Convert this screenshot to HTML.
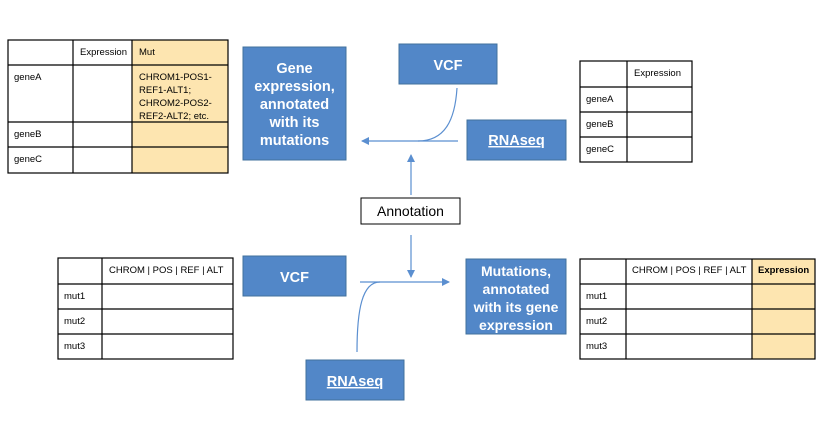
<!DOCTYPE html>
<html><head><meta charset="utf-8"><style>
html,body{margin:0;padding:0;background:#fff;}
svg{display:block;font-family:"Liberation Sans",sans-serif;}
.b{fill:#5287c8;stroke:#41719c;stroke-width:1}
.t{fill:#fff;font-weight:bold;text-anchor:middle}
.s{font-size:9.5px;fill:#000}
.g{stroke:#000;stroke-width:1.2;fill:none}
.l{stroke:#5b8fd0;stroke-width:1.2;fill:none}
</style></head><body>
<svg width="829" height="430" viewBox="0 0 829 430">
<defs><marker id="a" markerWidth="8" markerHeight="8" refX="7" refY="4" orient="auto" markerUnits="userSpaceOnUse"><path d="M0,0 L8,4 L0,8 z" fill="#5b8fd0"/></marker></defs>

<!-- top-left table -->
<rect x="132" y="40" width="96" height="133" fill="#fde5b0"/>
<rect x="8" y="40" width="220" height="133" class="g"/>
<line x1="73" y1="40" x2="73" y2="173" class="g"/>
<line x1="132" y1="40" x2="132" y2="173" class="g"/>
<line x1="8" y1="65" x2="228" y2="65" class="g"/>
<line x1="8" y1="122" x2="228" y2="122" class="g"/>
<line x1="8" y1="147" x2="228" y2="147" class="g"/>
<text x="80" y="55" class="s">Expression</text>
<text x="139" y="55" class="s">Mut</text>
<text x="14" y="80" class="s">geneA</text>
<text x="139" y="80" class="s">CHROM1-POS1-</text>
<text x="139" y="93" class="s">REF1-ALT1;</text>
<text x="139" y="106" class="s">CHROM2-POS2-</text>
<text x="139" y="119" class="s">REF2-ALT2; etc.</text>
<text x="14" y="137" class="s">geneB</text>
<text x="14" y="162" class="s">geneC</text>

<!-- gene expression box -->
<rect x="243" y="47" width="103" height="113" class="b"/>
<text class="t" font-size="14.5"><tspan x="294.5" y="73">Gene</tspan><tspan x="294.5" y="91">expression,</tspan><tspan x="294.5" y="109">annotated</tspan><tspan x="294.5" y="127">with its</tspan><tspan x="294.5" y="145">mutations</tspan></text>

<rect x="399" y="44" width="98" height="40" class="b"/>
<text x="448" y="70" class="t" font-size="14.5">VCF</text>
<rect x="467" y="120" width="99" height="40" class="b"/>
<text x="516.5" y="145" class="t" font-size="14.5" text-decoration="underline">RNAseq</text>

<line x1="458" y1="141" x2="362" y2="141" class="l" marker-end="url(#a)"/>
<path d="M457,88 C455,120 445,141 418,141" class="l"/>
<line x1="411" y1="195" x2="411" y2="155" class="l" marker-end="url(#a)"/>

<rect x="361" y="198" width="99" height="26" fill="#fff" stroke="#000" stroke-width="1"/>
<text x="410.5" y="216" font-size="14" text-anchor="middle">Annotation</text>

<!-- top-right table -->
<rect x="580" y="61" width="112" height="101" class="g"/>
<line x1="627" y1="61" x2="627" y2="162" class="g"/>
<line x1="580" y1="87" x2="692" y2="87" class="g"/>
<line x1="580" y1="112" x2="692" y2="112" class="g"/>
<line x1="580" y1="137" x2="692" y2="137" class="g"/>
<text x="634" y="76" class="s">Expression</text>
<text x="586" y="102" class="s">geneA</text>
<text x="586" y="127" class="s">geneB</text>
<text x="586" y="152" class="s">geneC</text>

<!-- bottom-left table -->
<rect x="58" y="258" width="175" height="101" class="g"/>
<line x1="102" y1="258" x2="102" y2="359" class="g"/>
<line x1="58" y1="284" x2="233" y2="284" class="g"/>
<line x1="58" y1="309" x2="233" y2="309" class="g"/>
<line x1="58" y1="334" x2="233" y2="334" class="g"/>
<text x="109" y="273" class="s">CHROM | POS | REF | ALT</text>
<text x="64" y="299" class="s">mut1</text>
<text x="64" y="324" class="s">mut2</text>
<text x="64" y="349" class="s">mut3</text>

<rect x="243" y="256" width="103" height="40" class="b"/>
<text x="294.5" y="282" class="t" font-size="14.5">VCF</text>
<rect x="306" y="360" width="98" height="40" class="b"/>
<text x="355" y="386" class="t" font-size="14.5" text-decoration="underline">RNAseq</text>

<line x1="360" y1="282" x2="449" y2="282" class="l" marker-end="url(#a)"/>
<path d="M357,352 C357,310 362,282 380,282" class="l"/>
<line x1="411" y1="235" x2="411" y2="277" class="l" marker-end="url(#a)"/>

<rect x="466" y="259" width="100" height="75" class="b"/>
<text class="t" font-size="14"><tspan x="516" y="276">Mutations,</tspan><tspan x="516" y="294">annotated</tspan><tspan x="516" y="312">with its gene</tspan><tspan x="516" y="330">expression</tspan></text>

<!-- bottom-right table -->
<rect x="752" y="259" width="63" height="100" fill="#fde5b0"/>
<rect x="580" y="259" width="235" height="100" class="g"/>
<line x1="626" y1="259" x2="626" y2="359" class="g"/>
<line x1="752" y1="259" x2="752" y2="359" class="g"/>
<line x1="580" y1="284" x2="815" y2="284" class="g"/>
<line x1="580" y1="309" x2="815" y2="309" class="g"/>
<line x1="580" y1="334" x2="815" y2="334" class="g"/>
<text x="632" y="273" class="s">CHROM | POS | REF | ALT</text>
<text x="758" y="273" class="s" font-weight="bold">Expression</text>
<text x="586" y="299" class="s">mut1</text>
<text x="586" y="324" class="s">mut2</text>
<text x="586" y="349" class="s">mut3</text>
</svg>
</body></html>
